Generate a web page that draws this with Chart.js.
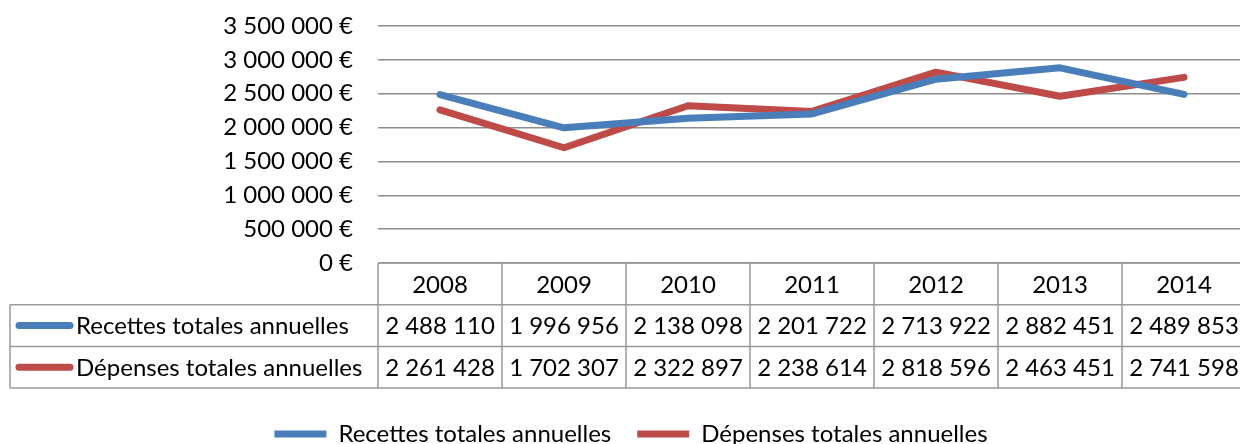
<!DOCTYPE html>
<html>
<head>
<meta charset="utf-8">
<script src="https://cdn.jsdelivr.net/npm/chart.js@4/dist/chart.umd.min.js"></script>
<style>
  html, body { margin: 0; padding: 0; background: #fff; overflow: hidden; }
  #wrap { width: 1240px; height: 444px; overflow: hidden; }
</style>
</head>
<body>
<div id="wrap"><canvas id="chart" width="1250" height="456"></canvas></div>
<script>
// données
const years = ['2008', '2009', '2010', '2011', '2012', '2013', '2014'];
const recettes = [2488110, 1996956, 2138098, 2201722, 2713922, 2882451, 2489853];
const depenses = [2261428, 1702307, 2322897, 2238614, 2818596, 2463451, 2741598];
const seriesNames = ['Recettes totales annuelles', 'Dépenses totales annuelles'];
const yMax = 3500000;
const yStep = 500000;

const BLUE = '#4a7ebb';
const RED = '#be4b48';
const GRID = '#8c8c8c';
const TABLE_LINE = '#9a9a9a';
const FONT = '24px Lato';

function fmt(n) {
    return String(Math.round(n)).replace(/\B(?=(\d{3})+(?!\d))/g, ' ');
}

// tableau de données sous l'axe des x
const dataTable = {
    id: 'dataTable',
    afterDraw(chart) {
        const ctx = chart.ctx;
        const x = chart.scales.x;
        const area = chart.chartArea;
        const n = years.length;
        const colW = (x.right - x.left) / n;
        const rowH = 41.7;
        const top = area.bottom;
        const tableLeft = 10;
        const right = x.right + 20;

        ctx.save();
        ctx.strokeStyle = TABLE_LINE;
        ctx.lineWidth = 1.5;
        ctx.beginPath();
        // lignes horizontales
        ctx.moveTo(x.left, top); ctx.lineTo(right, top);
        for (let r = 1; r <= 3; r++) {
            ctx.moveTo(tableLeft, top + r * rowH);
            ctx.lineTo(right, top + r * rowH);
        }
        // lignes verticales
        ctx.moveTo(tableLeft, top + rowH); ctx.lineTo(tableLeft, top + 3 * rowH);
        for (let i = 0; i <= n; i++) {
            const cx = x.left + i * colW;
            ctx.moveTo(cx, top); ctx.lineTo(cx, top + 3 * rowH);
        }
        ctx.stroke();

        ctx.fillStyle = '#000';
        ctx.font = FONT;
        ctx.textBaseline = 'middle';
        ctx.textAlign = 'center';
        years.forEach((y, i) => {
            ctx.fillText(y, x.getPixelForValue(i), top + rowH / 2 + 1);
        });

        chart.data.datasets.forEach((ds, r) => {
            const cy = top + (r + 1.5) * rowH + 1;
            ctx.textAlign = 'center';
            ds.data.forEach((v, i) => {
                ctx.fillText(fmt(v), x.getPixelForValue(i), cy);
            });
            // clé de légende
            ctx.strokeStyle = ds.borderColor;
            ctx.lineWidth = 7;
            ctx.lineCap = 'round';
            ctx.beginPath();
            ctx.moveTo(19, cy - 1);
            ctx.lineTo(70, cy - 1);
            ctx.stroke();
            ctx.textAlign = 'left';
            ctx.fillText(ds.label, 76, cy);
        });
        ctx.restore();
    }
};

function build() {
    Chart.defaults.font.family = 'Lato';
    Chart.defaults.font.size = 24;
    Chart.defaults.color = '#000';

    new Chart(document.getElementById('chart'), {
        type: 'line',
        data: {
            labels: years,
            datasets: [
                {
                    label: seriesNames[0],
                    data: recettes,
                    borderColor: BLUE,
                    backgroundColor: BLUE,
                    borderWidth: 7,
                    borderCapStyle: 'round',
                    borderJoinStyle: 'round',
                    pointRadius: 0,
                    tension: 0
                },
                {
                    label: seriesNames[1],
                    data: depenses,
                    borderColor: RED,
                    backgroundColor: RED,
                    borderWidth: 7,
                    borderCapStyle: 'round',
                    borderJoinStyle: 'round',
                    pointRadius: 0,
                    tension: 0
                }
            ]
        },
        options: {
            responsive: false,
            animation: false,
            layout: { padding: { top: 26, left: 16, right: 4, bottom: 0 } },
            scales: {
                x: {
                    offset: true,
                    grid: { display: false, drawTicks: false },
                    border: { display: false },
                    ticks: { display: false },
                    afterFit(scale) { scale.height = 133; }
                },
                y: {
                    min: 0,
                    max: yMax,
                    ticks: {
                        stepSize: yStep,
                        padding: 0,
                        color: '#000',
                        callback: v => fmt(v) + ' €'
                    },
                    grid: {
                        color: GRID,
                        lineWidth: 1.5,
                        drawTicks: true,
                        tickLength: 25,
                        tickColor: 'rgba(0,0,0,0)'
                    },
                    border: { display: false },
                    afterFit(scale) { scale.width = 362; }
                }
            },
            plugins: {
                legend: {
                    position: 'bottom',
                    labels: {
                        usePointStyle: true,
                        pointStyle: 'line',
                        pointStyleWidth: 52,
                        padding: 26,
                        color: '#000'
                    }
                },
                tooltip: { enabled: false }
            }
        },
        plugins: [dataTable]
    });
}

if (document.fonts && document.fonts.load) {
    document.fonts.load(FONT).then(build, build);
} else {
    build();
}
</script>
</body>
</html>
